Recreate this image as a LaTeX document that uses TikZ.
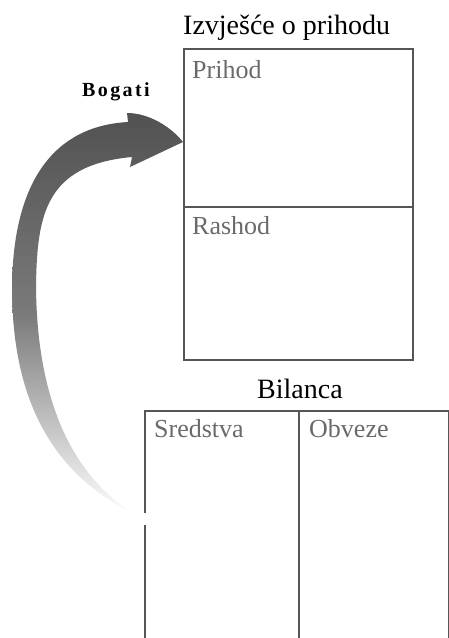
\documentclass[tikz,border=0pt]{standalone}
\usepackage{fontspec}
\setmainfont{Liberation Serif}
\newfontfamily\spacedbold[LetterSpace=12]{Liberation Serif}
\definecolor{boxline}{HTML}{555555}
\definecolor{labelgray}{HTML}{6A6A6A}
\begin{document}
\begin{tikzpicture}[x=1pt,y=-1pt,
  panel/.style={draw=boxline, line width=1.6pt, rectangle, inner sep=0pt, anchor=north west},
  title/.style={anchor=base west, inner sep=0pt, font=\fontsize{28}{30}\selectfont, text=black},
  field/.style={anchor=base west, inner sep=0pt, font=\fontsize{26}{28}\selectfont, text=labelgray},
  flow/.style={draw=none, top color=black!68, bottom color=white, middle color=black!52}
]
\useasboundingbox (0,0) rectangle (449,638);

% Income statement
\node[panel, minimum width=229pt, minimum height=158pt] (prihod) at (183,48) {};
\node[panel, minimum width=229pt, minimum height=153pt] (rashod) at (183,206) {};
\node[title] (izvj) at (183,34) {Izvješće o prihodu};
\node[field] (lprihod) at (192,78) {Prihod};
\node[field] (lrashod) at (192,234) {Rashod};

% Balance sheet
\node[panel, minimum width=154pt, minimum height=250pt] (sredstva) at (144,410) {};
\node[panel, minimum width=150pt, minimum height=250pt] (obveze) at (298,410) {};
\node[title] (bilanca) at (257,398) {Bilanca};
\node[field] (lsredstva) at (154,437) {Sredstva};
\node[field] (lobveze) at (309,437) {Obveze};

% gap in the left edge where the arrow starts
\fill[white] (142,513) rectangle (146,525);

% Curved arrow
\coordinate (tip) at (prihod.west |- 0,142);
\coordinate (tail) at (138,516);
\path[flow] (tip)
  .. controls (172,128) and (150,113) .. (127,113)
  -- (128,122)
  .. controls (55,126) and (13,180) .. (12,287)
  .. controls (12,390) and (45,472) .. (tail)
  .. controls (72,478) and (37,400) .. (36,287)
  .. controls (37,215) and (45,165) .. (132,157)
  -- (130,167)
  -- cycle;

\node[anchor=base, inner sep=0pt, font=\spacedbold\bfseries\fontsize{20}{22}\selectfont] (bogati) at (116,96) {Bogati};
\end{tikzpicture}
\end{document}
